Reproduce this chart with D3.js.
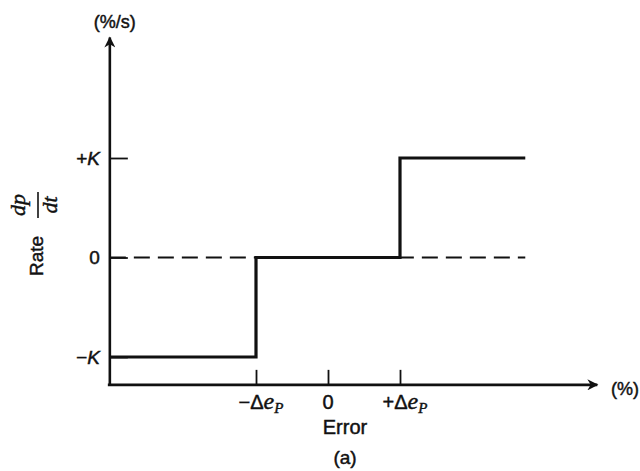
<!DOCTYPE html>
<html><head><meta charset="utf-8">
<script src="https://cdn.jsdelivr.net/npm/d3@7"></script>
<style>
html,body{margin:0;padding:0;background:#fff;}
</style></head>
<body><svg id="c" width="640" height="471" font-family="Liberation Sans, Arial, sans-serif"></svg>
<script>
// ---- data ----
const xTickValues = [-1, 0, 1];
const xTickLabels = ["−Δ", "0", "+Δ"];
const yTickValues = [-1, 0, 1];
const yTickLabels = ["−K", "0", "+K"];
const stepErrors = [-3.03, -1, 1, 2.74];
const stepRates  = [-1, 0, 1, 1];
const zeroLineErrors = [-3.03, 2.74];
const xAxisExtent = [-3.03, 3.74];
const yAxisExtent = [-1.28, 2.21];

const INK = "#111";
const SERIF = "Liberation Serif, Times New Roman, serif";
const svg = d3.select("#c");
const x = d3.scaleLinear().domain([-1, 1]).range([256, 400]);
const y = d3.scaleLinear().domain([-1, 1]).range([357, 158]);

function ink(sel){ return sel.attr("fill",INK).attr("stroke",INK).attr("stroke-width",0.45); }

const defs = svg.append("defs");
defs.append("marker").attr("id","arr").attr("viewBox","0 0 10 10")
  .attr("refX",9).attr("refY",5).attr("markerWidth",14).attr("markerHeight",11)
  .attr("markerUnits","userSpaceOnUse").attr("orient","auto")
  .append("path").attr("d","M0,0 L10,5 L0,10 L3,5 Z").attr("fill",INK);

// dashed zero line
svg.append("line")
  .attr("x1", x(zeroLineErrors[0])).attr("x2", x(zeroLineErrors[1]))
  .attr("y1", y(0)).attr("y2", y(0))
  .attr("stroke",INK).attr("stroke-width",1.8).attr("stroke-dasharray","16,8");

// step line
const line = d3.line().x((d,i)=>x(stepErrors[i])).y((d,i)=>y(stepRates[i])).curve(d3.curveStepAfter);
svg.append("path").datum(stepErrors).attr("d", line)
  .attr("fill","none").attr("stroke",INK).attr("stroke-width",3.2);

// axes lines with arrows
const y0 = y(yAxisExtent[0]);
svg.append("line").attr("x1", x(xAxisExtent[0])-2).attr("x2", x(xAxisExtent[1]))
  .attr("y1", y0).attr("y2", y0).attr("stroke",INK).attr("stroke-width",2.6)
  .attr("marker-end","url(#arr)");
svg.append("line").attr("x1", x(xAxisExtent[0])).attr("x2", x(xAxisExtent[0]))
  .attr("y1", y0).attr("y2", y(yAxisExtent[1])).attr("stroke",INK).attr("stroke-width",2.6)
  .attr("marker-end","url(#arr)");

// y axis ticks + labels
const yAx = d3.axisLeft(y).tickValues(yTickValues).tickSizeInner(-18).tickSizeOuter(0).tickPadding(10)
  .tickFormat((d,i)=>yTickLabels[i]);
const gy = svg.append("g").attr("transform",`translate(${x(xAxisExtent[0])},0)`).call(yAx);
gy.select(".domain").remove();
gy.selectAll(".tick line").attr("stroke",INK).attr("stroke-width",1.8);
ink(gy.selectAll(".tick text")).attr("font-size",19)
  .attr("font-style", d => d===0 ? "normal" : "italic")
  .attr("font-family", "Liberation Sans, Arial, sans-serif");

// x axis ticks + labels
const xAx = d3.axisBottom(x).tickValues(xTickValues).tickSizeInner(-15).tickSizeOuter(0).tickPadding(12)
  .tickFormat(()=>"");
const gx = svg.append("g").attr("transform",`translate(0,${y0})`).call(xAx);
gx.select(".domain").remove();
gx.selectAll(".tick line").attr("stroke",INK).attr("stroke-width",1.8);
gx.selectAll(".tick text").remove();
xTickValues.forEach((v,i)=>{
  const t = ink(svg.append("text")).attr("x", x(v) + (v===0?0:5)).attr("y", y0+24)
    .attr("text-anchor","middle").attr("font-size",20);
  if (v===0) { t.text(xTickLabels[i]); }
  else {
    t.append("tspan").text(xTickLabels[i]);
    t.append("tspan").attr("font-family",SERIF).attr("font-style","italic").attr("font-size",24).text("e");
    t.append("tspan").attr("font-family",SERIF).attr("font-style","italic").attr("font-size",15).attr("dy",4).text("P");
  }
});

// axis titles
ink(svg.append("text")).attr("x", x(0)+17).attr("y", y0+49).attr("text-anchor","middle").attr("font-size",20).text("Error");
ink(svg.append("text")).attr("x", x(0)+17).attr("y", y0+79).attr("text-anchor","middle").attr("font-size",19).text("(a)");
ink(svg.append("text")).attr("x", 625).attr("y", y0+10).attr("text-anchor","middle").attr("font-size",18).text("(%)");
ink(svg.append("text")).attr("x", x(xAxisExtent[0])+5).attr("y", 28).attr("text-anchor","middle").attr("font-size",18).text("(%/s)");

// rotated y label
const gl = svg.append("g").attr("transform","translate(36,256) rotate(-90)");
ink(gl.append("text")).attr("x",0).attr("y",7).attr("text-anchor","middle").attr("font-size",19).text("Rate");
ink(gl.append("text")).attr("x",51).attr("y",-11).attr("text-anchor","middle").attr("font-size",22)
  .attr("font-family",SERIF).attr("font-style","italic").text("dp");
gl.append("line").attr("x1",38).attr("x2",64).attr("y1",2).attr("y2",2).attr("stroke",INK).attr("stroke-width",1.6);
ink(gl.append("text")).attr("x",51).attr("y",21).attr("text-anchor","middle").attr("font-size",22)
  .attr("font-family",SERIF).attr("font-style","italic").text("dt");
</script></body></html>
